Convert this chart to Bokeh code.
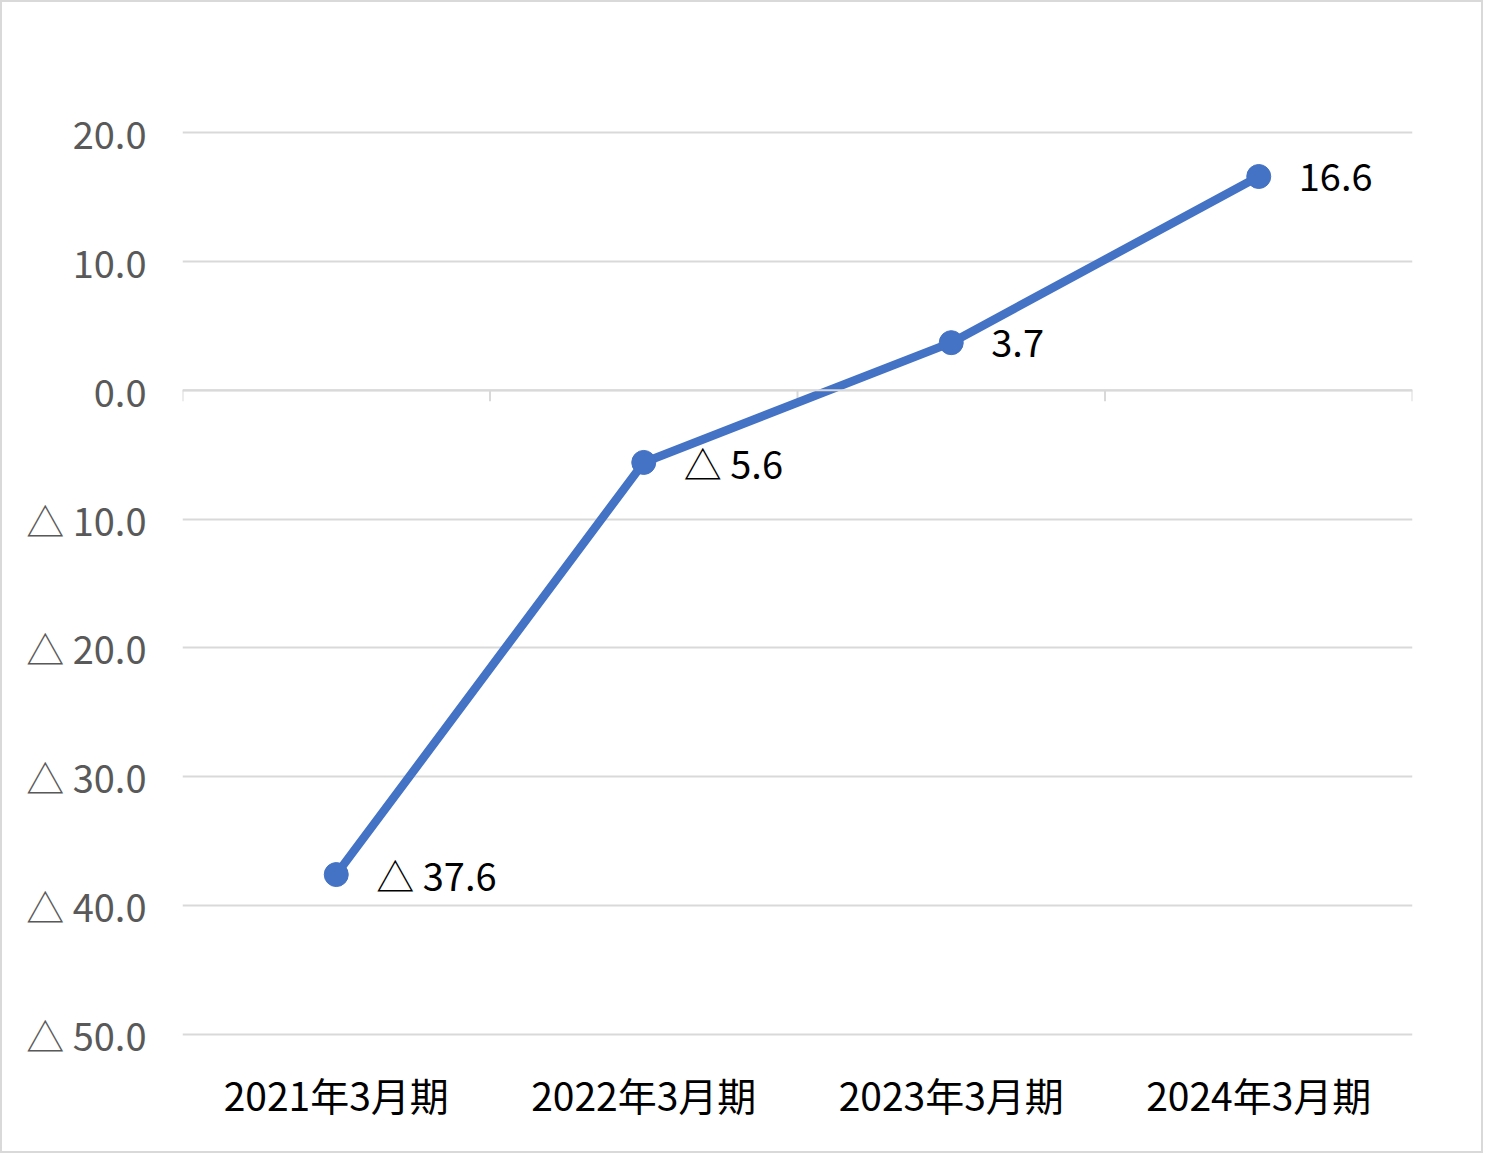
from bokeh.plotting import figure
from bokeh.models import FactorRange, Range1d, FixedTicker, ColumnDataSource, Span
from bokeh.embed import file_html
from bokeh.resources import INLINE
from bokeh.core.properties import value

categories = ["2021年3月期", "2022年3月期", "2023年3月期", "2024年3月期"]
values = [-37.6, -5.6, 3.7, 16.6]
y_ticks = [20, 10, 0, -10, -20, -30, -40, -50]

def fmt(v):
    return ("△ %.1f" % abs(v)) if v < 0 else ("%.1f" % v)

y_tick_labels = {t: fmt(t) for t in y_ticks}
point_labels = [fmt(v) for v in values]

FONT = "Noto Sans CJK JP"
W, H = 1483, 1153

p = figure(width=W, height=H, output_backend="svg", toolbar_location=None,
           x_range=FactorRange(*categories, range_padding=0),
           y_range=Range1d(-50.25, 20.25),
           min_border_left=180, min_border_right=73,
           min_border_top=127, min_border_bottom=118)
p.styles = {"border": "2px solid #d9d9d9"}
p.outline_line_color = None
p.background_fill_color = "white"
p.border_fill_color = "white"

# grid
p.xgrid.grid_line_color = None
p.ygrid.grid_line_color = "#d9d9d9"
p.ygrid.grid_line_width = 2
p.yaxis.ticker = FixedTicker(ticks=y_ticks)
p.yaxis.major_label_overrides = y_tick_labels
p.yaxis.axis_line_color = None
p.yaxis.major_tick_line_color = None
p.yaxis.minor_tick_line_color = None
p.yaxis.major_tick_out = 0
p.yaxis.major_label_standoff = 36
p.yaxis.major_label_text_font = FONT
p.yaxis.major_label_text_font_size = "38px"
p.yaxis.major_label_text_color = "#595959"

p.xaxis.axis_line_color = None
p.xaxis.major_tick_line_color = None
p.xaxis.minor_tick_line_color = None
p.xaxis.major_tick_out = 0
p.xaxis.major_label_standoff = 28
p.xaxis.major_label_text_font = FONT
p.xaxis.major_label_text_font_size = "39px"
p.xaxis.major_label_text_color = "black"

# category axis line at zero with boundary ticks
p.add_layout(Span(location=0, dimension="width", line_color="#d9d9d9", line_width=2))
bounds = list(range(len(categories) + 1))
p.segment(x0=bounds, y0=[0] * len(bounds), x1=bounds, y1=[-0.85] * len(bounds),
          line_color="#d9d9d9", line_width=2)

src = ColumnDataSource(dict(x=categories, y=values, lab=point_labels))
p.line("x", "y", source=src, line_color="#4472C4", line_width=8.5)
p.scatter("x", "y", source=src, size=24, fill_color="#4472C4", line_color="#4472C4")
p.text("x", "y", text="lab", source=src, x_offset=40, text_baseline="middle",
       text_font=value(FONT), text_font_size="38px", text_color="black")

open("out.html", "w").write(file_html(p, INLINE))
